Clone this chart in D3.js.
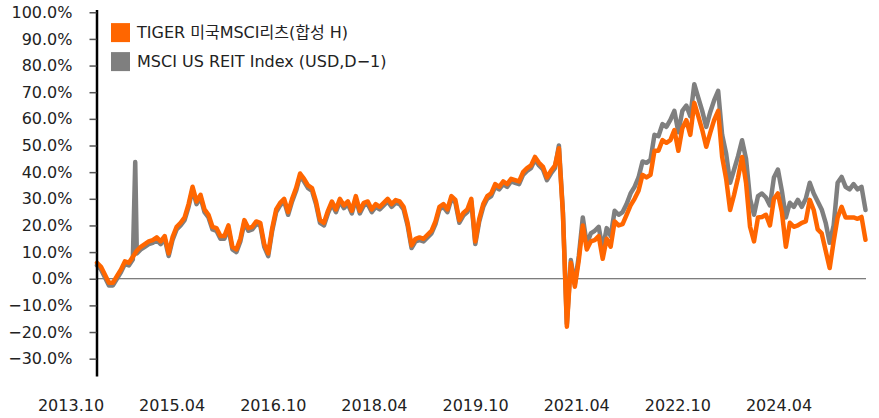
<!DOCTYPE html>
<html>
<head>
  <meta charset="utf-8">
  <title>TIGER 미국MSCI리츠 vs MSCI US REIT</title>
  <style>
    body { margin: 0; background: #fff; }
    .chart text {
      font-family: "DejaVu Sans", "Noto Sans CJK KR", sans-serif;
      font-size: 16px;
      fill: #222;
    }
    .chart .axis-y .domain { stroke: #000; stroke-width: 2.5px; }
    .chart .axis-y .tick line { stroke: #555; stroke-width: 1.5px; }
    .chart .zero-line { stroke: #555; stroke-width: 1px; }
    .chart .series { fill: none; stroke-width: 4.5px; stroke-linejoin: round; stroke-linecap: round; }
  </style>
</head>
<body>
  <svg id="chart" class="chart" width="879" height="418"></svg>

  <script src="https://d3js.org/d3.v7.min.js"></script>
  <script>
    // series names and colours (legend order)
    const seriesNames = ['TIGER 미국MSCI리츠(합성 H)', 'MSCI US REIT Index (USD,D\u22121)'];
    const seriesColors = ['#ff6600', '#7f7f7f'];

    // cumulative return (%), one reading every 20 days from 2013-10-14
    const startDate = '2013-10-14';
    const stepDays = 20;

    const tigerValues = [
      6, 4.5, 1.5, -1.5, -1.5, 1, 3.4, 6.5, 6, 8.2,
      10.5, 12, 13, 14, 14.5, 15.5, 14, 16, 9.5, 15.7,
      19.5, 21, 23, 28, 34.5, 29, 31.5, 26, 24, 19.5,
      19, 16, 16, 20, 12, 11, 15, 22, 19, 19.5,
      21.5, 21, 13, 9.5, 19, 26, 28.5, 30, 25, 30,
      34, 39.5, 37.5, 35, 34, 29, 22, 21, 25.5, 29,
      26, 30, 27.5, 29, 25.5, 31, 25.5, 28.5, 29, 26,
      28, 27, 28.5, 30, 28, 29.5, 29, 27, 21, 12.5,
      15, 15.5, 15, 16.5, 18, 21.5, 27, 28, 26, 31,
      29.6, 22, 24.7, 26, 30, 14, 22.5, 28, 31, 32,
      35.5, 34.5, 36.5, 35.5, 37.5, 37, 36.5, 40, 41.5, 42.5,
      45.7, 43.5, 42, 38, 40.5, 42.5,
      49, 24.7, -18, 6, -3, 7, 20, 11, 14, 14.5,
      16, 7.5, 15, 12, 21.5, 20, 20.5, 24, 27.5, 30,
      33, 39, 38, 39, 48, 48, 52, 51, 52, 55.8,
      48, 56.5, 59.5, 54, 66, 61, 55.8, 49.5, 54.7, 59.6,
      63, 45.7, 37.5, 25.8, 31.5, 38, 45.7, 36, 19.5, 14,
      23, 23.2, 24, 20, 30, 32, 25, 12, 21, 19.5,
      20, 21, 21.5, 29.6, 25.8, 18.5, 17, 10.5, 4, 14,
      23, 27, 23, 23, 23, 22.5, 23.2, 14.6
    ];

    const msciValues = [
      5, 3.5, 0.5, -2.5, -2.5, 0, 2.4, 5.5, 5, 7.2,
      9.5, 11, 12, 13, 13.5, 14.5, 13, 15, 8.5, 14.7,
      18.5, 20, 22, 27, 33.5, 28, 30.5, 25, 23, 18.5,
      18, 15, 15, 19, 11, 10, 14, 21, 18, 18.5,
      20.5, 20, 12, 8.5, 18, 25, 27.5, 29, 24, 29,
      33, 38.5, 36.5, 34, 33, 28, 21, 20, 24.5, 28,
      25, 29, 26.5, 28, 24.5, 30, 24.5, 27.5, 28, 25,
      27, 26, 27.5, 29, 27, 28.5, 28, 26, 20, 11.5,
      14, 14.5, 14, 15.5, 17, 20.5, 26, 27, 25, 30,
      28.6, 21, 23.7, 25, 29, 13, 21.5, 27, 30, 31,
      34.5, 33.5, 35.5, 34.5, 36.5, 36, 35.5, 39, 40.5, 41.5,
      44.7, 42.5, 41, 37, 39.5, 41.5,
      50, 25.5, -17, 7, -2, 8.5, 23, 13, 17, 18,
      19.5, 11, 19, 16, 25.5, 24, 25, 28, 32, 34.5,
      38, 44, 43.5, 44.6, 54, 53.5, 58, 57, 59.6, 63,
      55, 63, 65, 61, 73, 68, 63, 57, 62.5, 67,
      70.5, 54, 47, 36, 41, 46, 52, 45, 30, 24,
      31, 32, 30.5, 27.5, 38, 41, 33, 23, 28.5, 27,
      29.6, 27, 30, 36, 32, 29, 26, 21, 13.5, 20,
      36, 38.2, 34.5, 33.5, 35.5, 33.5, 34.5, 25.8
    ];

    // one-day outlier in the index series
    const msciOutlier = { date: '2014-04-24', value: 43.8 };

    // axis labels
    const xLabels = ['2013.10', '2015.04', '2016.10', '2018.04', '2019.10', '2021.04', '2022.10', '2024.04'];
    const yTicks = [-30, -20, -10, 0, 10, 20, 30, 40, 50, 60, 70, 80, 90, 100];

    // build dated series
    const parse = d3.timeParse('%Y-%m-%d');
    const start = parse(startDate);
    const dates = tigerValues.map((v, i) => d3.timeDay.offset(start, i * stepDays));
    const tiger = tigerValues.map((v, i) => ({ date: dates[i], value: v }));
    const msci = msciValues.map((v, i) => ({ date: dates[i], value: v }));
    msci.push({ date: parse(msciOutlier.date), value: msciOutlier.value });
    msci.sort((a, b) => a.date - b.date);

    // svg container
    const svg = d3.select('#chart');
    const margin = { top: 9.6, right: 10, bottom: 42, left: 96.5 };
    const width = +svg.attr('width') - margin.left - margin.right;
    const height = +svg.attr('height') - margin.top - margin.bottom;
    const g = svg.append('g').attr('transform', `translate(${margin.left},${margin.top})`);

    // scales
    const xScale = d3.scaleTime()
      .domain(d3.extent(dates))
      .range([0.5, width - 3.5]);
    const yScale = d3.scaleLinear()
      .domain([-36.5, 101])
      .range([height, 0]);
    const labelScale = d3.scalePoint()
      .domain(xLabels)
      .range([-25.5, width - 90]);

    // zero line
    g.append('line')
      .attr('class', 'zero-line')
      .attr('x1', 0)
      .attr('x2', width - 3)
      .attr('y1', yScale(0))
      .attr('y2', yScale(0));

    // lines: index underneath, ETF on top
    const line = d3.line()
      .x(d => xScale(d.date))
      .y(d => yScale(d.value));

    g.append('path')
      .datum(msci)
      .attr('class', 'series')
      .attr('stroke', seriesColors[1])
      .attr('d', line);

    g.append('path')
      .datum(tiger)
      .attr('class', 'series')
      .attr('stroke', seriesColors[0])
      .attr('d', line);

    // y axis
    const fmt = d3.format('.1f');
    const yAxis = d3.axisLeft(yScale)
      .tickValues(yTicks)
      .tickSize(7)
      .tickSizeOuter(0)
      .tickPadding(17)
      .tickFormat(d => fmt(d) + '%');

    g.append('g')
      .attr('class', 'axis axis-y')
      .call(yAxis)
      .call(a => a.selectAll('text').attr('font-size', null).attr('font-family', null));

    // x labels (evenly spaced category labels)
    g.append('g')
      .attr('class', 'axis axis-x')
      .selectAll('text')
      .data(xLabels)
      .enter()
      .append('text')
      .attr('x', d => labelScale(d))
      .attr('y', height + 35)
      .attr('text-anchor', 'middle')
      .text(d => d);

    // legend
    const legend = g.append('g')
      .attr('transform', 'translate(14.5,13.5)');

    const item = legend.selectAll('g')
      .data(seriesNames)
      .enter()
      .append('g')
      .attr('transform', (d, i) => `translate(0,${i * 29})`);

    item.append('rect')
      .attr('width', 19)
      .attr('height', 19)
      .attr('fill', (d, i) => seriesColors[i]);

    item.append('text')
      .attr('x', 26)
      .attr('y', 15)
      .text(d => d);
  </script>
</body>
</html>
